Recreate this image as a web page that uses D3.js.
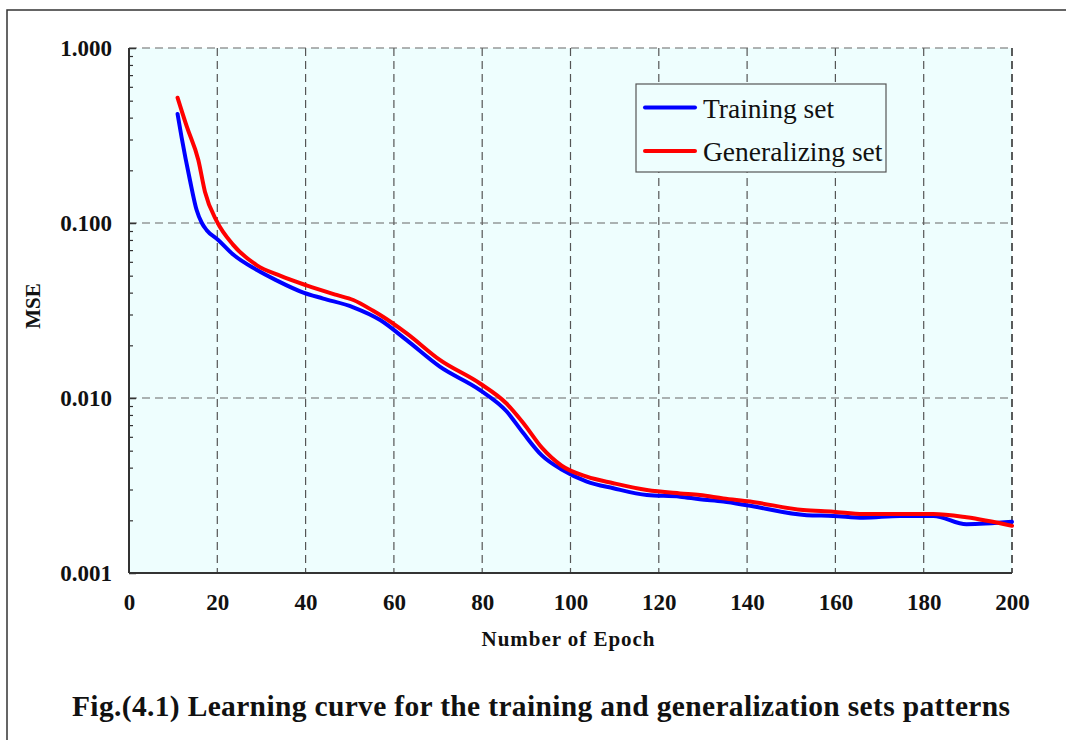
<!DOCTYPE html>
<html>
<head>
<meta charset="utf-8">
<script src="https://cdn.jsdelivr.net/npm/d3@7"></script>
<style>
  html, body { margin: 0; padding: 0; background: #fff; }
  svg { display: block; }
  text { font-family: "Liberation Serif", "Times New Roman", serif; fill: #111; }
</style>
</head>
<body>
<svg id="chart" width="1066" height="740"></svg>
<script>
// ---- data ----
const xTicks = [0, 20, 40, 60, 80, 100, 120, 140, 160, 180, 200];
const yTicks = [0.001, 0.01, 0.1, 1];
const seriesNames = ["Training set", "Generalizing set"];
const seriesColors = ["#0000ff", "#ff0000"];

const trainEpoch = [11, 11.9, 13.8, 15.3, 16.5, 17.6, 20.2, 23.6, 28.9, 33.4, 39.5, 44, 50.8, 56.9, 62.9, 70.4, 79.5, 85.5, 89.3, 93.5, 98, 103.7, 109.7, 117.3, 124.8, 129.3, 134.6, 140.7, 153.5, 159.5, 166.3, 174.6, 182.2, 189.7, 200];
const trainMSE = [0.42, 0.31, 0.176, 0.119, 0.100, 0.091, 0.080, 0.066, 0.054, 0.047, 0.040, 0.037, 0.033, 0.0279, 0.0214, 0.0151, 0.0111, 0.0084, 0.0063, 0.0047, 0.0039, 0.00333, 0.00305, 0.00279, 0.00273, 0.00264, 0.00256, 0.00242, 0.00214, 0.00212, 0.00207, 0.00212, 0.00212, 0.00190, 0.00196];

const genEpoch = [11, 13.1, 15.7, 17.2, 19.9, 23.6, 28.9, 34.2, 40.2, 47, 50.8, 55.3, 56.9, 62.9, 70.4, 79.5, 85.5, 89.3, 93.5, 98, 103.7, 109.7, 117.3, 124.8, 129.3, 134.6, 140.7, 152.7, 159.5, 166.3, 182.2, 189.7, 200];
const genMSE = [0.52, 0.355, 0.229, 0.151, 0.102, 0.075, 0.0575, 0.050, 0.044, 0.0388, 0.0363, 0.0315, 0.0298, 0.0234, 0.0165, 0.0121, 0.0093, 0.0072, 0.0052, 0.0041, 0.00355, 0.00326, 0.00298, 0.00285, 0.00279, 0.00267, 0.00256, 0.00229, 0.00224, 0.00217, 0.00217, 0.00208, 0.00186];

// ---- layout ----
const svg = d3.select("#chart");
const L = 129, R = 1012, T = 48, B = 573;
const x = d3.scaleLinear().domain([0, 200]).range([L, R]);
const y = d3.scaleLog().domain([0.001, 1]).range([B, T]);

// outer frame
svg.append("rect").attr("x", 7).attr("y", 10).attr("width", 1080).attr("height", 760)
  .attr("fill", "none").attr("stroke", "#333").attr("stroke-width", 1.5);

// plot background
svg.append("rect").attr("x", L).attr("y", T).attr("width", R - L).attr("height", B - T)
  .attr("fill", "#eefefe");

// grid lines
const grid = svg.append("g");
grid.selectAll("line.v").data(xTicks.filter(d => d > 0)).join("line")
  .attr("x1", d => x(d)).attr("x2", d => x(d)).attr("y1", T).attr("y2", B)
  .attr("stroke", d => d === 200 ? "#333" : "#555").attr("stroke-width", d => d === 200 ? 1.6 : 1.2)
  .attr("stroke-dasharray", "8,5");
grid.selectAll("line.h").data(yTicks.filter(d => d > 0.001)).join("line")
  .attr("x1", L).attr("x2", R).attr("y1", d => y(d)).attr("y2", d => y(d))
  .attr("stroke", "#666").attr("stroke-width", 1.2)
  .attr("stroke-dasharray", "8,5");

// y axis (major, inward ticks)
const yAxis = d3.axisLeft(y).tickValues(yTicks).tickFormat(d3.format(".3f"))
  .tickSizeInner(-7).tickSizeOuter(0).tickPadding(17);
const gy = svg.append("g").attr("transform", `translate(${L},0)`).call(yAxis);
gy.select(".domain").remove();
gy.selectAll(".tick line").attr("stroke", "#333").attr("stroke-width", 1.5);
gy.selectAll("text").attr("font-size", 23).attr("font-weight", "bold")
  .style("font-family", '"Liberation Serif", serif').attr("fill", "#111");

// y axis minor ticks
const minors = [];
[0.001, 0.01, 0.1].forEach(dec => { for (let k = 2; k <= 9; k++) minors.push(dec * k); });
const yMinor = d3.axisLeft(y).tickValues(minors).tickFormat("").tickSizeInner(-4).tickSizeOuter(0);
const gym = svg.append("g").attr("transform", `translate(${L},0)`).call(yMinor);
gym.select(".domain").remove();
gym.selectAll(".tick line").attr("stroke", "#333").attr("stroke-width", 1.2);

// x axis
const xAxis = d3.axisBottom(x).tickValues(xTicks).tickSize(0).tickPadding(21);
const gx = svg.append("g").attr("transform", `translate(0,${B})`).call(xAxis);
gx.select(".domain").remove();
gx.selectAll("text").attr("font-size", 23).attr("font-weight", "bold")
  .style("font-family", '"Liberation Serif", serif').attr("fill", "#111");

// axis lines (left & bottom solid)
svg.append("line").attr("x1", L).attr("x2", L).attr("y1", T).attr("y2", B)
  .attr("stroke", "#333").attr("stroke-width", 2);
svg.append("line").attr("x1", L).attr("x2", R).attr("y1", B).attr("y2", B)
  .attr("stroke", "#333").attr("stroke-width", 2);

// series
const series = [
  { name: seriesNames[0], color: seriesColors[0], pts: trainEpoch.map((e, i) => [e, trainMSE[i]]) },
  { name: seriesNames[1], color: seriesColors[1], pts: genEpoch.map((e, i) => [e, genMSE[i]]) }
];
const line = d3.line().x(d => x(d[0])).y(d => y(d[1])).curve(d3.curveMonotoneX);
svg.selectAll("path.series").data(series).join("path")
  .attr("class", "series")
  .attr("d", d => line(d.pts))
  .attr("fill", "none").attr("stroke", d => d.color).attr("stroke-width", 4)
  .attr("stroke-linejoin", "round").attr("stroke-linecap", "round");

// legend
const lg = svg.append("g");
lg.append("rect").attr("x", 636).attr("y", 84).attr("width", 250).attr("height", 88)
  .attr("fill", "#eefefe").attr("stroke", "#555").attr("stroke-width", 1.2);
const legY = [107.5, 151];
series.forEach((s, i) => {
  lg.append("line").attr("x1", 645).attr("x2", 695).attr("y1", legY[i]).attr("y2", legY[i])
    .attr("stroke", s.color).attr("stroke-width", 4).attr("stroke-linecap", "round");
  lg.append("text").attr("x", 703).attr("y", legY[i] + 10).attr("font-size", 27.5)
    .text(s.name);
});

// axis titles
svg.append("text").attr("x", 568).attr("y", 646).attr("text-anchor", "middle")
  .attr("font-size", 21).attr("font-weight", "bold")
  .attr("textLength", 173).attr("lengthAdjust", "spacing")
  .text("Number of Epoch");
svg.append("text").attr("transform", "translate(40,306) rotate(-90)").attr("text-anchor", "middle")
  .attr("font-size", 21).attr("font-weight", "bold")
  .text("MSE");

// caption
svg.append("text").attr("x", 72).attr("y", 716).attr("font-size", 29.5).attr("font-weight", "bold")
  .attr("textLength", 938).attr("lengthAdjust", "spacing")
  .text("Fig.(4.1) Learning curve for the training and generalization sets patterns");
</script>
</body>
</html>
